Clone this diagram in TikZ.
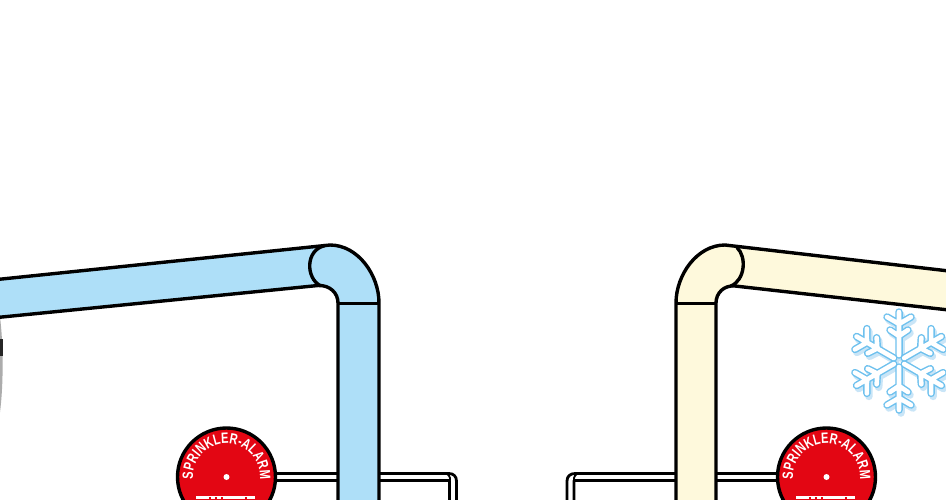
\documentclass[tikz,border=0pt]{standalone}
\usepackage{fontspec}
\setmainfont{Liberation Sans}
\newfontfamily\alarmfont[FakeStretch=0.74]{Liberation Sans Bold}
\usetikzlibrary{decorations.text}
\definecolor{pipeblue}{HTML}{AEDFF8}
\definecolor{pipecream}{HTML}{FEF9DC}
\definecolor{alarmred}{HTML}{E30613}
\definecolor{flakeblue}{HTML}{6EC1EE}
\definecolor{flakeshade}{HTML}{C9E5F7}
\tikzset{
  pipeline/.style={line width=3.4pt,line join=round},
  tube/.style={line width=2.8pt,line join=round},
  alarmdisc/.style={circle,fill=alarmred,draw=black,line width=3.4pt,minimum size=98pt,inner sep=0pt},
  alarmtext/.style={postaction={decorate,decoration={text along path,
     text align={fit to path},text={|\alarmfont\fontsize{15pt}{15pt}\selectfont\color{white}|SPRINKLER-ALARM}}}},
}
\newcommand{\flakearm}{%
  (0,6) -- (0,49)
  (0,25) -- (-9,31) (0,25) -- (9,31)
  (0,37) -- (-12,44) (0,37) -- (12,44)}
\newcommand{\flake}[2]{%
  \foreach \a in {0,60,...,300}{
    \draw[rotate around={\a:(#1)},shift={(#1)},line cap=round,line join=round,#2] \flakearm;
  }}
\newcommand{\alarmfoot}[1]{%
  \fill[white] (#1-30,496) rectangle (#1+29,499);
  \foreach \dx in {-17,-11,-5,19}{\fill[alarmred] (#1+\dx,497) rectangle (#1+\dx+1.5,499);}
}
\begin{document}
\begin{tikzpicture}[x=1pt,y=-1pt]
\useasboundingbox (0,0) rectangle (946,499);
\fill[white] (0,0) rectangle (946,499);
% gray fragment at left edge
\fill[gray!65] (0,317) .. controls (3.5,345) and (3.5,385) .. (0,412) -- cycle;
\fill[black!85] (0,339) rectangle (3,356);
% left tube behind pipe
\draw[tube,fill=white] (270,473.5) -- (449,473.5) .. controls (453.5,473.5) and (456.5,476.5) .. (456.5,481) -- (456.5,502) -- (449.5,502) -- (449.5,480.5) -- (270,480.5);
\draw[line width=1.8pt] (449,480.5) .. controls (451,480.5) and (450,475) .. (447,474);
% right tube behind pipe
\draw[tube,fill=white] (780,473.5) -- (575,473.5) .. controls (570,473.5) and (567,476.5) .. (567,481) -- (567,502) -- (574,502) -- (574,480.5) -- (780,480.5);
\draw[line width=1.8pt] (575,480.5) .. controls (573,480.5) and (574,475) .. (577,474);
% blue pipe
\path[fill=pipeblue] (-3,279.5) -- (330,245) .. controls (358,245) and (379,275) .. (379,303) -- (379,502) -- (338,502) -- (338,303) .. controls (338,293) and (330,285) .. (318,285.5) -- (-3,317.5) -- cycle;
\draw[pipeline] (-3,279.5) -- (330,245) .. controls (358,245) and (379,275) .. (379,303) -- (379,502);
\draw[pipeline] (338,502) -- (338,303) .. controls (338,293) and (330,285) .. (318,285.5) -- (-3,317.5);
\draw[pipeline] (338,303.5) -- (379,303.5);
\draw[pipeline] (325,245.5) .. controls (305,250) and (306,278) .. (320,285.5);
% cream pipe
\path[fill=pipecream] (949,271) -- (725,245) .. controls (697,245) and (676,275) .. (676,303) -- (676,502) -- (716,502) -- (716,303) .. controls (716,293) and (724,285) .. (735,286) -- (949,310) -- cycle;
\draw[pipeline] (949,271) -- (725,245) .. controls (697,245) and (676,275) .. (676,303) -- (676,502);
\draw[pipeline] (716,502) -- (716,303) .. controls (716,293) and (724,285) .. (735,286) -- (949,310);
\draw[pipeline] (676,303.5) -- (716,303.5);
\draw[pipeline] (737,247.5) .. controls (747,257) and (745,280) .. (731,286);
% alarm discs
\node[alarmdisc] (alarmL) at (226.5,477) {};
\fill[white] (alarmL.center) circle (3pt);
\path[alarmtext] (alarmL.center) ++(176:33.5) arc[start angle=176,end angle=364,radius=33.5];
\alarmfoot{226}
\node[alarmdisc] (alarmR) at (826.5,477) {};
\fill[white] (alarmR.center) circle (3pt);
\path[alarmtext] (alarmR.center) ++(176:33.5) arc[start angle=176,end angle=364,radius=33.5];
\alarmfoot{826}
% snowflake
\flake{901,364}{draw=flakeshade,line width=7.5pt}
\flake{899,361}{draw=flakeblue,line width=7.5pt}
\flake{899,361}{draw=white,line width=4.6pt}
\end{tikzpicture}
\end{document}
